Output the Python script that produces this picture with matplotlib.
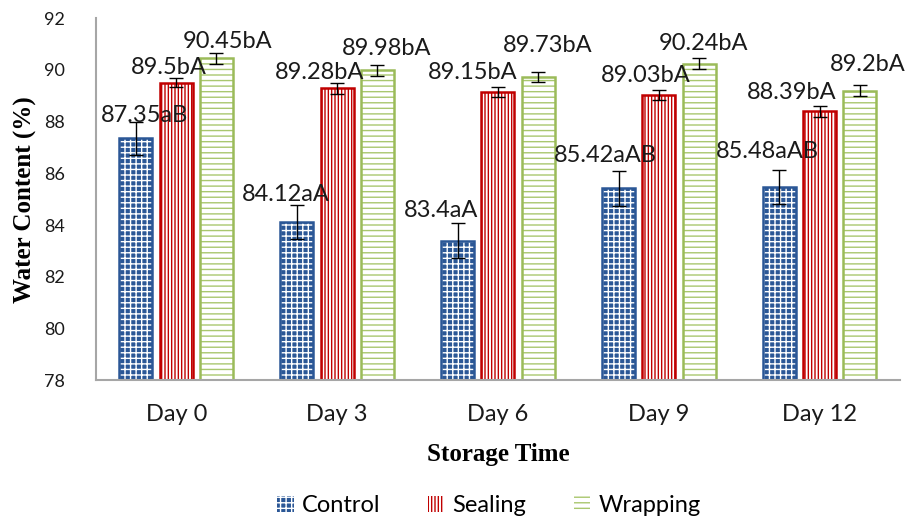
import matplotlib
matplotlib.use("Agg")
import matplotlib.pyplot as plt
from matplotlib.patches import Patch
import numpy as np

days = ["Day 0", "Day 3", "Day 6", "Day 9", "Day 12"]
series = ["Control", "Sealing", "Wrapping"]

control = [87.35, 84.12, 83.4, 85.42, 85.48]
sealing = [89.5, 89.28, 89.15, 89.03, 88.39]
wrapping = [90.45, 89.98, 89.73, 90.24, 89.2]

control_err = [0.65, 0.67, 0.68, 0.67, 0.66]
sealing_err = [0.18, 0.2, 0.19, 0.19, 0.2]
wrapping_err = [0.22, 0.2, 0.2, 0.2, 0.22]

control_lbl = ["87.35aB", "84.12aA", "83.4aA", "85.42aAB", "85.48aAB"]
sealing_lbl = ["89.5bA", "89.28bA", "89.15bA", "89.03bA", "88.39bA"]
wrapping_lbl = ["90.45bA", "89.98bA", "89.73bA", "90.24bA", "89.2bA"]

# fill colour, hatch colour, outline colour, hatch
styles = [
    ("#2B5796", "white", "#2B5796", "+++"),
    ("white", "#C00000", "#C00000", "|||||"),
    ("white", "#A9C76E", "#9BBB59", "---"),
]

# hand-placed label nudges (pixels): sideways and above the bar top
label_dx = [[9, -11, -17, -13, -12],
            [-7, -18, -25, -13, -28],
            [11, 9, 10, 4, 8]]
label_dy = [[23, 27, 30, 33, 35],
            [15, 16, 19, 19, 19],
            [17, 22, 31, 20, 26]]

plt.rcParams["font.family"] = ["Lato", "DejaVu Sans"]
plt.rcParams["hatch.linewidth"] = 1.0

fig, ax = plt.subplots(figsize=(9.12, 5.18), dpi=100)
fig.subplots_adjust(left=0.105, right=0.987, bottom=0.266, top=0.965)

x = np.arange(len(days))
width = 0.205
offsets = [-0.25, 0.0, 0.25]
values = [control, sealing, wrapping]
errors = [control_err, sealing_err, wrapping_err]
labels = [control_lbl, sealing_lbl, wrapping_lbl]

for i, (vals, errs, lbls, off, (fc, hc, ec, hatch)) in enumerate(zip(values, errors, labels, offsets, styles)):
    pos = x + off
    heights = np.array(vals) - 78
    # hatch layer, then outline on top
    ax.bar(pos, heights, width, bottom=78, facecolor=fc, edgecolor=hc, hatch=hatch, linewidth=0)
    ax.bar(pos, heights, width, bottom=78, fill=False, edgecolor=ec, linewidth=1.8)
    ax.errorbar(pos, vals, yerr=errs, fmt="none", ecolor="black", elinewidth=1, capsize=5, capthick=1)
    for j, (p, v, t) in enumerate(zip(pos, vals, lbls)):
        ax.annotate(t, (p, v), xytext=(label_dx[i][j] * 0.72, label_dy[i][j] * 0.72),
                    textcoords="offset points", ha="center", va="center",
                    fontsize=17, color="#1a1a1a")

ax.set_xlim(-0.5, len(days) - 0.5)
ax.set_ylim(78, 92)
ax.set_yticks(np.arange(78, 93, 2))
ax.set_xticks(x)
ax.set_xticklabels(days)
ax.tick_params(axis="both", length=0, colors="#1a1a1a")
ax.tick_params(axis="x", pad=17, labelsize=17)
ax.tick_params(axis="y", pad=22, labelsize=13)

for s in ["top", "right"]:
    ax.spines[s].set_visible(False)
for s in ["left", "bottom"]:
    ax.spines[s].set_color("#A6A6A6")
    ax.spines[s].set_linewidth(1.5)

ax.set_ylabel("Water Content (%)", fontsize=18, fontweight="bold",
              family="Liberation Serif", labelpad=5)
ax.set_xlabel("Storage Time", fontsize=18, fontweight="bold",
              family="Liberation Serif", labelpad=13)

handles = [Patch(facecolor=fc, edgecolor=hc, hatch=h, linewidth=0) for fc, hc, ec, h in styles]
leg = fig.legend(handles, series, loc="center", bbox_to_anchor=(0.536, 0.024),
                 ncol=3, frameon=False, fontsize=17, handlelength=0.7, handleheight=0.7,
                 handletextpad=0.35, columnspacing=2.0, borderpad=0.1)

fig.savefig("out.png", dpi=100)
